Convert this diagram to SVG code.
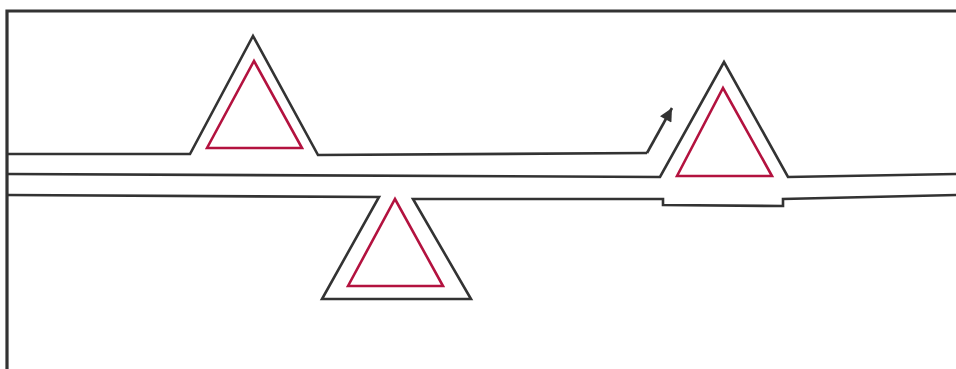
<svg xmlns="http://www.w3.org/2000/svg" width="956" height="369" viewBox="0 0 956 369">
<defs>
<style>
.wall{fill:none;stroke:#333;stroke-width:2.6;stroke-linejoin:miter}
.frame{fill:none;stroke:#333;stroke-width:3.2}
.tri{fill:none;stroke:#b3123f;stroke-width:2.6;stroke-linejoin:miter}
</style>
<marker id="ah" viewBox="0 0 10 10" refX="10" refY="5" markerWidth="6" markerHeight="5" orient="auto" markerUnits="strokeWidth">
<path d="M0,0 L10,5 L0,10 Z" fill="#333"/>
</marker>
</defs>
<rect width="956" height="369" fill="#fff"/>
<path class="frame" d="M7,369 V11 H956"/>
<g id="walls">
<path class="wall" d="M7,154 H190 L253,36 L318,155 L647,153"/>
<path class="wall" d="M7,174 L660,177 L724,62 L788,177 L956,174"/>
<path class="wall" d="M7,195 L379,197 L322,299 L471,299 L413,199 L663,199 V205 L783,206 V199 L956,195"/>
</g>
<g id="connectors">
<path class="wall" d="M647,153 L672,108" stroke-width="2.4" stroke-linejoin="round" marker-end="url(#ah)"/>
</g>
<g id="triangle-1"><path class="tri" d="M207,148 L254,61 L302,148 Z"/></g>
<g id="triangle-2"><path class="tri" d="M348,286 L395,199 L443,286 Z"/></g>
<g id="triangle-3"><path class="tri" d="M677,176 L723,88 L772,176 Z"/></g>
</svg>
